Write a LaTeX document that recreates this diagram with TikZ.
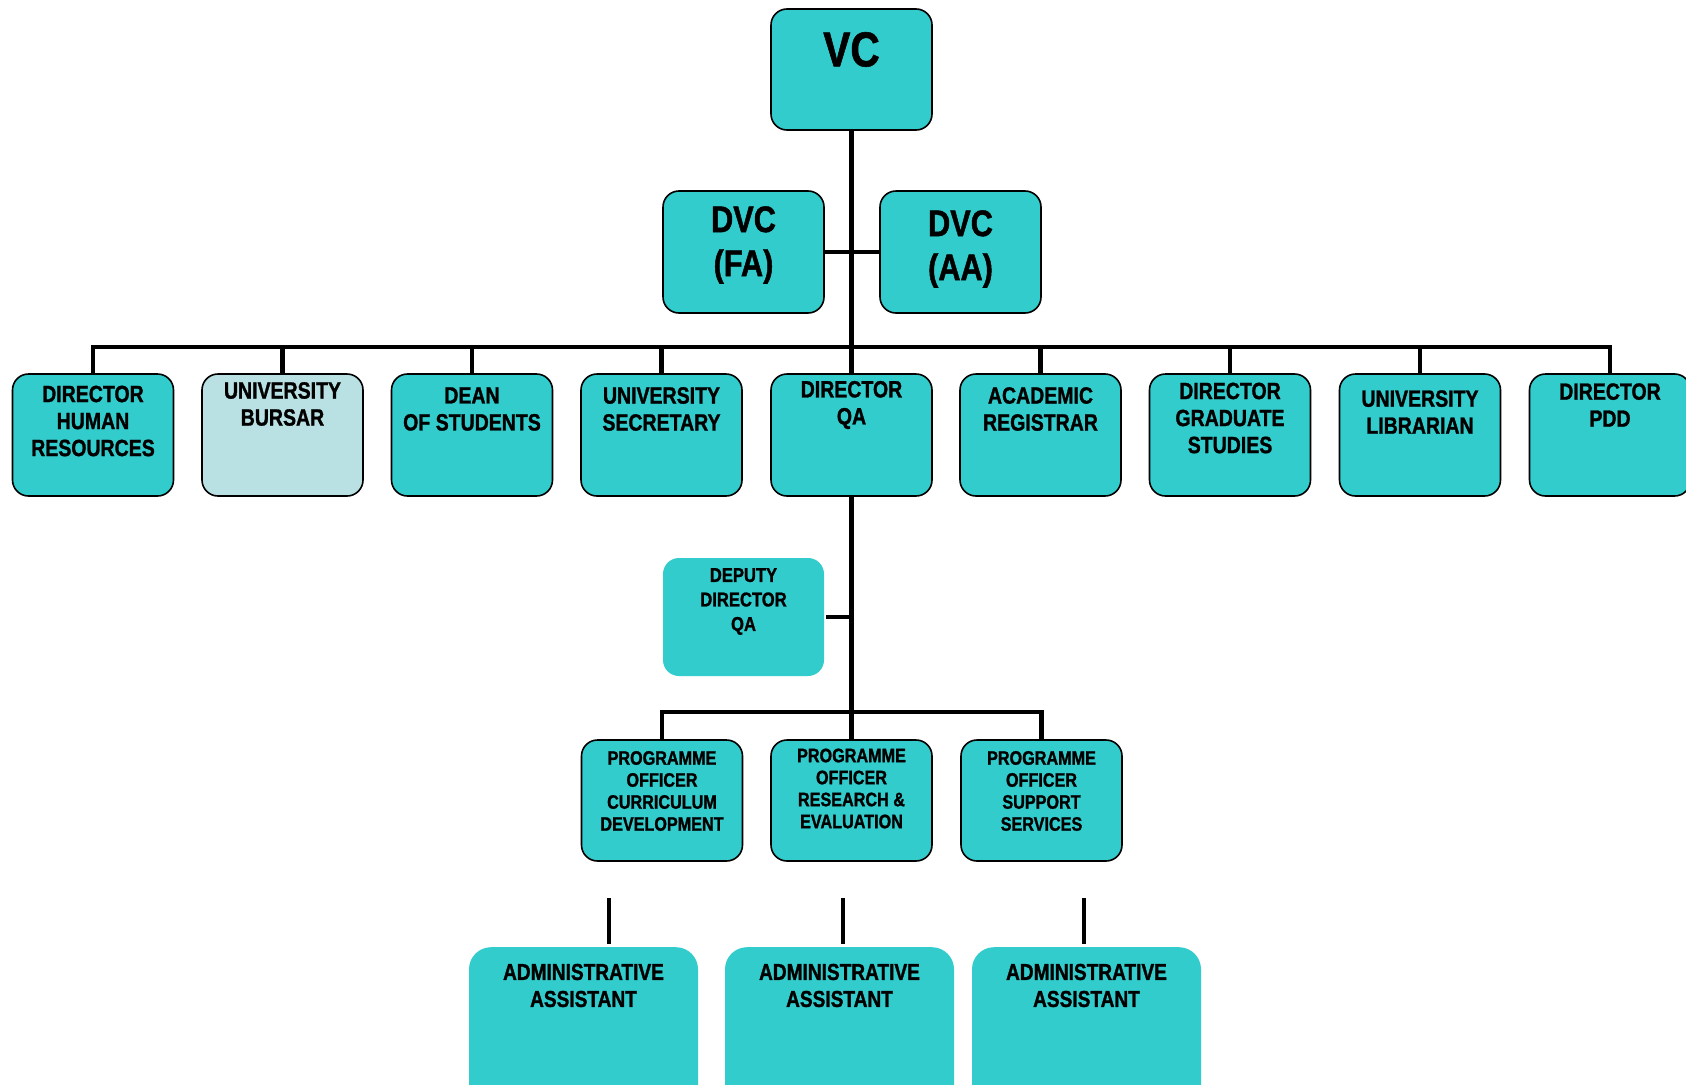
\documentclass[tikz,border=0pt]{standalone}
\usepackage{fontspec}
\newfontfamily\orgfont{Liberation Sans}[FakeStretch=0.83, BoldFeatures={FakeBold=1.2}]
\definecolor{teal1}{RGB}{51,204,204}
\definecolor{pale}{RGB}{185,224,227}
\begin{document}
\begin{tikzpicture}[x=1pt,y=-1pt,
  box/.style={draw=black, line width=1.6pt, fill=teal1, rounded corners=16pt, minimum width=161pt, minimum height=122pt, inner sep=0pt},
  plainbox/.style={fill=teal1, rounded corners=16pt, minimum width=161pt, minimum height=118pt, inner sep=0pt},
  adminbox/.style={fill=teal1, rounded corners=22pt, minimum width=229pt, minimum height=170pt, inner sep=0pt},
  conn/.style={line width=4.8pt, black},
  txt/.style={font=\orgfont\bfseries\fontsize{23.5}{27}\selectfont, align=center, inner sep=0pt, text=black},
  txtsm/.style={font=\orgfont\bfseries\fontsize{19.5}{22}\selectfont, align=center, inner sep=0pt, text=black},
  txtdep/.style={font=\orgfont\bfseries\fontsize{20}{24.5}\selectfont, align=center, inner sep=0pt, text=black},
  txtbig/.style={font=\orgfont\bfseries\fontsize{37}{44}\selectfont, align=center, inner sep=0pt, text=black}
]
\useasboundingbox (0,0) rectangle (1686,1084);
\clip (0,0) rectangle (1686,1084);
\fill[white] (0,0) rectangle (1686,1084);

% top
\node[box, minimum height=121pt] (vc) at (851.5,69.5) {};
\node[box] (fa) at (743.5,252) {};
\node[box] (aa) at (960.5,252) {};

% row 2
\node[box] (hr) at (93,435) {};
\node[box, fill=pale] (bursar) at (282.5,435) {};
\node[box] (dean) at (472,435) {};
\node[box] (sec) at (661.5,435) {};
\node[box] (qa) at (851.5,435) {};
\node[box] (reg) at (1040.5,435) {};
\node[box] (grad) at (1230,435) {};
\node[box] (lib) at (1420,435) {};
\node[box] (pdd) at (1610,435) {};

% deputy
\node[plainbox] (dep) at (743.5,617) {};

% programme officers
\node[box, minimum height=121pt] (po1) at (662,800.5) {};
\node[box, minimum height=121pt] (po2) at (851.5,800.5) {};
\node[box, minimum height=121pt] (po3) at (1041.5,800.5) {};

% admin assistants
\node[adminbox, anchor=north] (ad1) at (583.5,947) {};
\node[adminbox, anchor=north] (ad2) at (839.5,947) {};
\node[adminbox, anchor=north] (ad3) at (1086.5,947) {};

% coordinates
\coordinate (bus) at (851.5,347);
\coordinate (pbus) at (851.5,712);
\coordinate (s1) at (609,898);
\coordinate (s2) at (843,898);
\coordinate (s3) at (1084,898);

% connectors
\draw[conn] (vc.south) -- (qa.north);
\draw[conn] (fa.east) -- (aa.west);
\draw[conn] (hr.north) -- (hr.north |- bus) -- (pdd.north |- bus) -- (pdd.north);
\foreach \n in {bursar,dean,sec,reg,grad,lib}{
  \draw[conn] (\n.north) -- (\n.north |- bus);
}
\draw[conn] (qa.south) -- (po2.north);
\draw[conn] ([xshift=2pt]dep.east) -- (dep.east -| qa.south);
\draw[conn] (po1.north) -- (po1.north |- pbus) -- (po3.north |- pbus) -- (po3.north);
\draw[conn] (s1) -- ([yshift=3pt]ad1.north -| s1);
\draw[conn] (s2) -- ([yshift=3pt]ad2.north -| s2);
\draw[conn] (s3) -- ([yshift=3pt]ad3.north -| s3);

% texts
\node[txt, font=\orgfont\bfseries\fontsize{49}{54}\selectfont] (vct) at (851.5,49.5) {VC};
\node[txtbig] (fat) at (743.5,245) {DVC\\(FA)};
\node[txtbig] (aat) at (960.5,249) {DVC\\(AA)};

\node[txt] (hrt) at (93,421) {DIRECTOR\\HUMAN\\RESOURCES};
\node[txt] (bursart) at (282.5,404) {UNIVERSITY\\BURSAR};
\node[txt] (deant) at (472,409) {DEAN\\OF STUDENTS};
\node[txt] (sect) at (661.5,409) {UNIVERSITY\\SECRETARY};
\node[txt] (qat) at (851.5,405) {DIRECTOR\\QA};
\node[txt] (regt) at (1040.5,409) {ACADEMIC\\REGISTRAR};
\node[txt] (gradt) at (1230,418) {DIRECTOR\\GRADUATE\\STUDIES};
\node[txt] (libt) at (1420,412) {UNIVERSITY\\LIBRARIAN};
\node[txt] (pddt) at (1610,405) {DIRECTOR\\PDD};

\node[txtdep] (dept) at (743.5,601.5) {DEPUTY\\DIRECTOR\\QA};

\node[txtsm] (po1t) at (662,791) {PROGRAMME\\OFFICER\\CURRICULUM\\DEVELOPMENT};
\node[txtsm] (po2t) at (851.5,788.5) {PROGRAMME\\OFFICER\\RESEARCH \&\\EVALUATION};
\node[txtsm] (po3t) at (1041.5,791) {PROGRAMME\\OFFICER\\SUPPORT\\SERVICES};

\node[txt, font=\orgfont\bfseries\fontsize{23}{27}\selectfont] (ad1t) at (583.5,985.5) {ADMINISTRATIVE\\ASSISTANT};
\node[txt, font=\orgfont\bfseries\fontsize{23}{27}\selectfont] (ad2t) at (839.5,985.5) {ADMINISTRATIVE\\ASSISTANT};
\node[txt, font=\orgfont\bfseries\fontsize{23}{27}\selectfont] (ad3t) at (1086.5,985.5) {ADMINISTRATIVE\\ASSISTANT};
\end{tikzpicture}
\end{document}
